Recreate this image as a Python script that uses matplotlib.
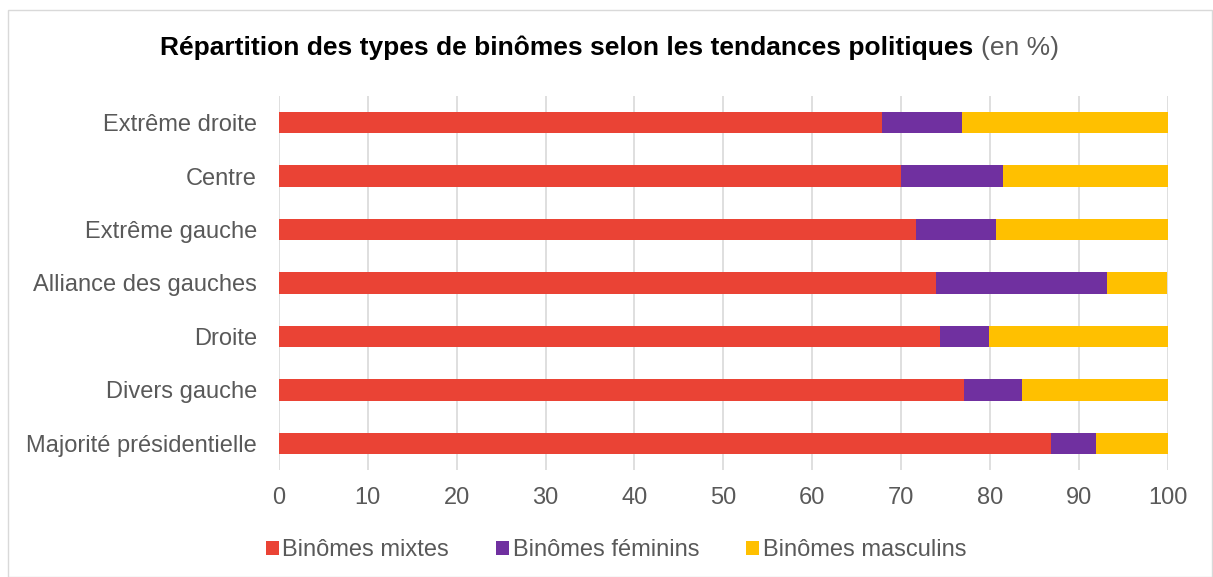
import matplotlib.pyplot as plt
from matplotlib.patches import Rectangle
import numpy as np

tendances = ["Extrême droite", "Centre", "Extrême gauche", "Alliance des gauches",
             "Droite", "Divers gauche", "Majorité présidentielle"]
mixtes = [67.9, 70.0, 71.7, 74.0, 74.4, 77.1, 86.9]
feminins = [9.0, 11.5, 9.0, 19.2, 5.5, 6.5, 5.0]
masculins = [100 - m - f for m, f in zip(mixtes, feminins)]

plt.rcParams['font.family'] = ['Liberation Sans', 'DejaVu Sans']
grey = "#595959"

fig = plt.figure(figsize=(12.13, 5.77), dpi=100)
fig.patches.append(Rectangle((8 / 1213, 0), 1 - 8 / 1213 - 0.001, 1 - 10 / 577,
                             transform=fig.transFigure, fill=False,
                             edgecolor="#d9d9d9", linewidth=1))
ax = fig.add_axes([279 / 1213, 1 - 470 / 577, (1167.5 - 279) / 1213, (470 - 96) / 577])

y = np.arange(len(tendances))
h = 0.4
ax.barh(y, mixtes, height=h, color="#ea4335", label="Binômes mixtes", zorder=3)
ax.barh(y, feminins, left=mixtes, height=h, color="#7030a0", label="Binômes féminins", zorder=3)
left2 = [m + f for m, f in zip(mixtes, feminins)]
ax.barh(y, masculins, left=left2, height=h, color="#ffc000", label="Binômes masculins", zorder=3)

ax.set_xlim(0, 100)
ax.set_ylim(len(tendances) - 0.5, -0.5)
ax.set_xticks(range(0, 101, 10))
ax.set_yticks(y)
ax.set_yticklabels(tendances)
ax.tick_params(axis="both", length=0, labelsize=17, colors=grey)
ax.tick_params(axis="x", pad=12)
ax.tick_params(axis="y", pad=16)
ax.grid(axis="x", color="#d9d9d9", linewidth=1.2, zorder=0)
for s in ax.spines.values():
    s.set_visible(False)

# titre : partie en gras + "(en %)" en gris
t1 = fig.text(160 / 1213, 1 - 48 / 577, "Répartition des types de binômes selon les tendances politiques",
              ha="left", va="center", fontsize=19, fontweight="bold", color="black")
fig.canvas.draw()
bb = t1.get_window_extent()
t2 = fig.text((bb.x1 + 8) / 1213, 1 - 48 / 577, "(en %)", ha="left", va="center",
              fontsize=19, color=grey)

leg = fig.legend(loc="center", bbox_to_anchor=(616 / 1213, 1 - 550 / 577), ncol=3, frameon=False,
                 fontsize=17, handlelength=0.55, handleheight=0.55, handletextpad=0.15,
                 columnspacing=2.0, labelcolor=grey)

fig.savefig("out.png", dpi=100)
